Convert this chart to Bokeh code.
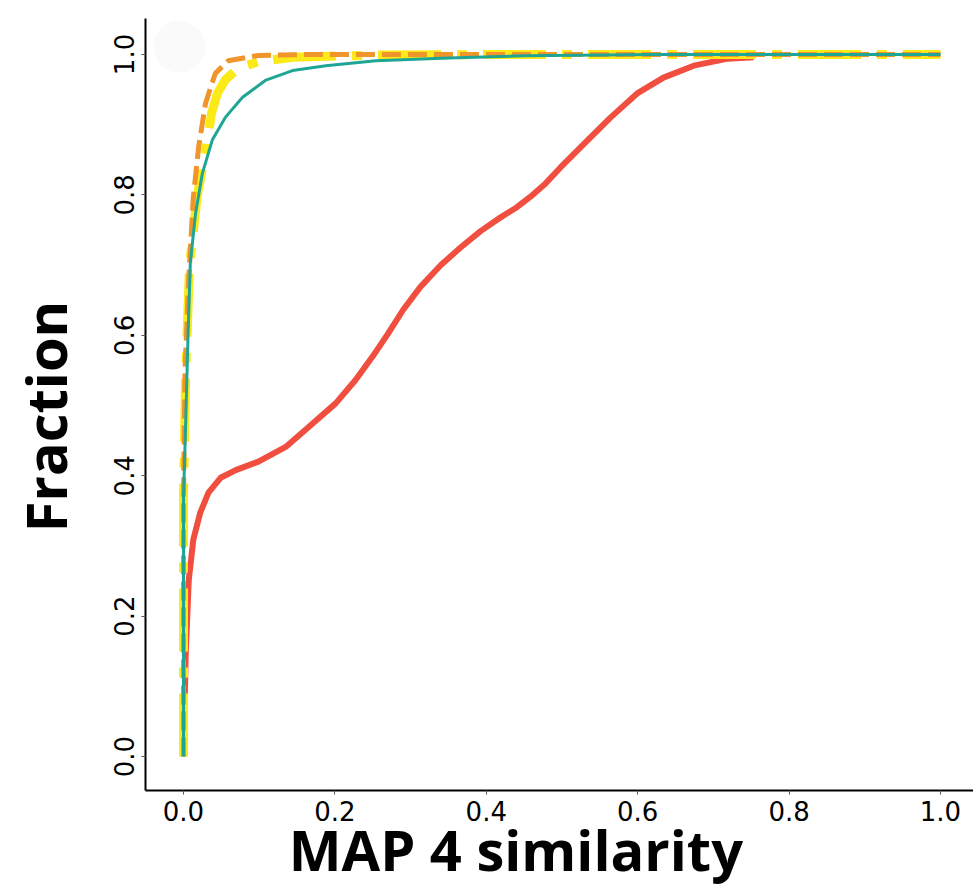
from bokeh.plotting import figure
from bokeh.embed import file_html
from bokeh.resources import INLINE
from bokeh.models import Range1d, FixedTicker

# ---- data ----
red_x = [0.0, 0.003, 0.007, 0.013, 0.022, 0.033, 0.049, 0.069, 0.099, 0.135, 0.165,
         0.201, 0.227, 0.250, 0.270, 0.290, 0.313, 0.340, 0.366, 0.392, 0.419, 0.440,
         0.458, 0.478, 0.498, 0.534, 0.564, 0.600, 0.634, 0.674, 0.719, 0.753]
red_y = [0.0, 0.148, 0.252, 0.309, 0.347, 0.376, 0.397, 0.408, 0.420, 0.441, 0.469,
         0.503, 0.536, 0.570, 0.602, 0.636, 0.669, 0.700, 0.725, 0.748, 0.768, 0.782,
         0.797, 0.816, 0.839, 0.878, 0.910, 0.945, 0.967, 0.984, 0.994, 0.996]

teal_x = [0.0, 0.0, 0.003, 0.006, 0.009, 0.016, 0.025, 0.038, 0.055, 0.078, 0.108,
          0.144, 0.188, 0.254, 0.35, 0.45, 0.62, 1.0]
teal_y = [0.0, 0.37, 0.48, 0.60, 0.703, 0.774, 0.831, 0.878, 0.910, 0.939, 0.963,
          0.977, 0.984, 0.991, 0.995, 0.998, 1.0, 1.0]

orange_x = [0.0, 0.0, 0.002, 0.007, 0.013, 0.020, 0.029, 0.042, 0.059, 0.099, 0.165, 1.0]
orange_y = [0.0, 0.37, 0.55, 0.683, 0.797, 0.868, 0.930, 0.973, 0.991, 0.9986, 1.0, 1.0]

yellow_x = [0.0, 0.0, 0.003, 0.008, 0.018, 0.030, 0.037, 0.045, 0.056, 0.073, 0.100,
            0.144, 0.25, 0.42, 1.0]
yellow_y = [0.0, 0.37, 0.55, 0.70, 0.797, 0.868, 0.916, 0.945, 0.965, 0.981, 0.990,
            0.996, 0.999, 1.0, 1.0]

ticks = [0.0, 0.2, 0.4, 0.6, 0.8, 1.0]
tick_labels = {0.0: "0.0", 0.2: "0.2", 0.4: "0.4", 0.6: "0.6", 0.8: "0.8", 1.0: "1.0"}

x_title = "MAP 4 similarity"
y_title = "Fraction"

p = figure(width=973, height=889, output_backend="svg", toolbar_location=None,
           x_range=Range1d(-0.0502, 1.0436), y_range=Range1d(-0.0484, 1.0512),
           min_border_left=145, min_border_top=18, min_border_bottom=98, min_border_right=0)

p.outline_line_color = None
p.xgrid.grid_line_color = None
p.ygrid.grid_line_color = None
p.background_fill_color = "white"

# faint decorative circle
p.scatter([-0.0053], [1.011], size=52, color="#fafafa", line_color=None)

p.line(red_x, red_y, line_color="#f04e3e", line_width=6, line_join="round")
p.line(yellow_x, yellow_y, line_color="#fbe918", line_width=9, line_dash="63 16 10 16")
p.line(orange_x, orange_y, line_color="#f0952a", line_width=5, line_dash="19 7")
p.line(teal_x, teal_y, line_color="#1fa596", line_width=3, line_join="round")

for ax in (p.xaxis[0], p.yaxis[0]):
    ax.ticker = FixedTicker(ticks=ticks)
    ax.major_label_overrides = tick_labels
    ax.axis_line_width = 2
    ax.axis_line_color = "black"
    ax.major_tick_line_color = "#555555"
    ax.major_tick_out = 4
    ax.major_tick_in = 0
    ax.minor_tick_line_color = None
    ax.major_label_text_font = "DejaVu Sans"
    ax.major_label_text_font_size = "26px"
    ax.major_label_text_color = "black"
    ax.axis_label_text_font = "Open Sans"
    ax.axis_label_text_font_style = "bold"
    ax.axis_label_text_font_size = "56px"
    ax.axis_label_text_color = "black"

# trailing no-break spaces shift the centred titles like in the reference
p.xaxis.axis_label = x_title + "\u00a0" * 6
p.yaxis.axis_label = y_title + "\u00a0\u2009"
p.yaxis.major_label_orientation = "vertical"
p.xaxis.major_label_standoff = 6
p.yaxis.major_label_standoff = 7
p.xaxis.axis_label_standoff = -13
p.yaxis.axis_label_standoff = 29

open("out.html", "w").write(file_html(p, INLINE))
